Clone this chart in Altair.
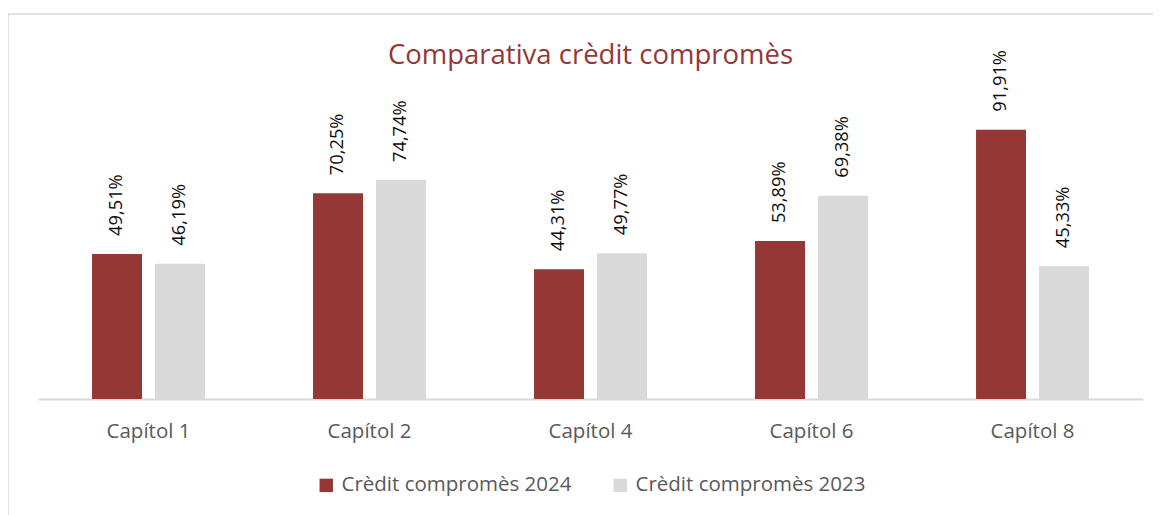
import altair as alt
import pandas as pd

title_text = "Comparativa crèdit compromès"
categories = ["Capítol 1", "Capítol 2", "Capítol 4", "Capítol 6", "Capítol 8"]
series_names = ["Crèdit compromès 2024", "Crèdit compromès 2023"]
values_2024 = [49.51, 70.25, 44.31, 53.89, 91.91]
values_2023 = [46.19, 74.74, 49.77, 69.38, 45.33]

RED = "#953735"
GREY = "#D9D9D9"
FONT = "Open Sans"

rows = []
for i, c in enumerate(categories):
    for s, vals in zip(series_names, [values_2024, values_2023]):
        v = vals[i]
        rows.append({"cat": c, "serie": s, "val": v,
                     "label": f"{v:.2f}".replace(".", ",") + "%"})
df = pd.DataFrame(rows)

W, H = 1105, 293

base = alt.Chart(df).encode(
    x=alt.X("cat:N", sort=categories, title=None,
            scale=alt.Scale(paddingInner=0.489, paddingOuter=0.2445),
            axis=alt.Axis(labelAngle=0, labelFont=FONT, labelFontSize=20.5,
                          labelColor="#595959", labelPadding=22, ticks=False,
                          domainColor=GREY, domainWidth=2, grid=False)),
    xOffset=alt.XOffset("serie:N", sort=series_names,
                        scale=alt.Scale(paddingInner=0.206, paddingOuter=0)),
)

bars = base.mark_bar().encode(
    y=alt.Y("val:Q", scale=alt.Scale(domain=[0, 100]), axis=None),
    color=alt.Color("serie:N", sort=series_names,
                    scale=alt.Scale(domain=series_names, range=[RED, GREY]),
                    legend=alt.Legend(title=None, orient="none", direction="horizontal",
                                      legendX=278, legendY=369,
                                      symbolType="square", symbolSize=180,
                                      symbolStrokeWidth=0, labelLimit=0,
                                      labelFont=FONT, labelFontSize=20.5,
                                      labelColor="#595959", labelOffset=5,
                                      columnPadding=38)),
)

labels = base.mark_text(angle=270, align="left", baseline="middle", dx=18,
                        font=FONT, fontSize=18.3, color="#0d0d0d").encode(
    y=alt.Y("val:Q", scale=alt.Scale(domain=[0, 100])),
    text="label:N",
)

frame = alt.Chart(pd.DataFrame({"k": [0]})).mark_rect(
    fill=None, stroke=GREY, strokeWidth=1.5).encode(
    x=alt.value(-30), x2=alt.value(1200), y=alt.value(-92), y2=alt.value(700))

title = alt.Chart(pd.DataFrame({"t": [title_text]})).mark_text(
    font=FONT, fontSize=27.5, color=RED, align="center", baseline="alphabetic").encode(
    text="t:N", x=alt.value(W / 2), y=alt.value(-42))

chart = alt.layer(frame, bars, labels, title).properties(
    width=W, height=H,
    autosize=alt.AutoSizeParams(type="none"),
    padding={"left": 30, "top": 98, "right": 10, "bottom": 130},
).configure_view(stroke=None)

chart.save("out.html", embed_options={"renderer": "svg", "actions": False})
